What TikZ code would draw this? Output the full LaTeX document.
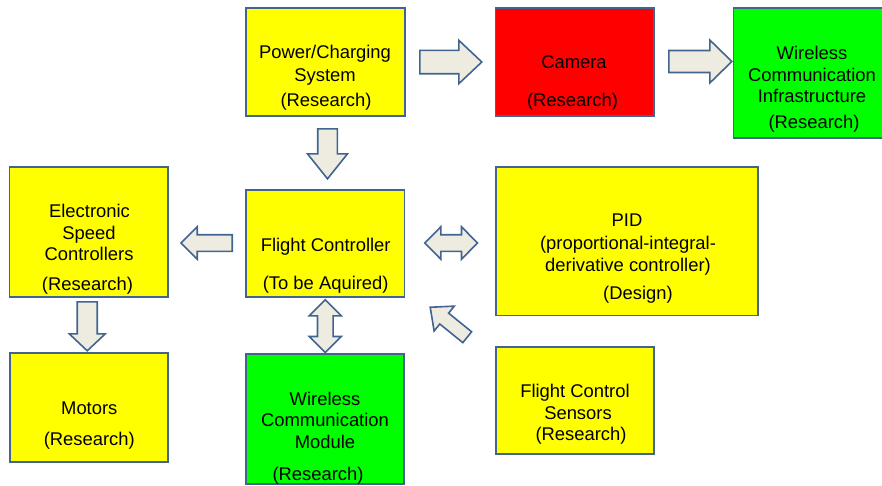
\documentclass[tikz,border=0pt]{standalone}
\usepackage{fontspec}
\setmainfont{Liberation Sans}
\usetikzlibrary{calc}

\definecolor{edgeblue}{RGB}{65,100,145}
\definecolor{arrowfill}{HTML}{EEECE1}
\definecolor{boxyellow}{HTML}{FFFF00}
\definecolor{boxred}{HTML}{FF0000}
\definecolor{boxgreen}{HTML}{00FF00}

\tikzset{
  box/.style={draw=edgeblue, line width=1.6pt, rectangle, inner sep=0pt},
  txt/.style={anchor=base, inner sep=0pt, font=\fontsize{18.4}{22}\selectfont, text=black},
  barrow/.style={draw=edgeblue, fill=arrowfill, line width=1.6pt, line join=miter},
  % block arrow from the tail point: length, head length, shaft half width, head half width
  pics/onearrow/.style n args={4}{code={
    \draw[barrow] (0,#3) -- ({#1-#2},#3) -- ({#1-#2},#4) -- (#1,0)
      -- ({#1-#2},-#4) -- ({#1-#2},-#3) -- (0,-#3) -- cycle;}},
  % double-headed block arrow
  pics/twoarrow/.style n args={4}{code={
    \draw[barrow] (0,0) -- (#2,#4) -- (#2,#3) -- ({#1-#2},#3) -- ({#1-#2},#4)
      -- (#1,0) -- ({#1-#2},-#4) -- ({#1-#2},-#3) -- (#2,-#3) -- (#2,-#4) -- cycle;}},
}

\begin{document}
\begin{tikzpicture}[x=1pt, y=-1pt]
\useasboundingbox (0,0) rectangle (882,485);
\clip (0,0) rectangle (882,485);

% boxes
\node[box, fill=boxyellow, minimum width=159pt, minimum height=108pt] (pw) at (325.5,62) {};
\node[box, fill=boxred, minimum width=158.5pt, minimum height=108pt] (cam) at (574.75,62) {};
\node[box, fill=boxgreen, minimum width=156.5pt, minimum height=130pt] (inf) at (811.75,73) {};
\node[box, fill=boxyellow, minimum width=158.5pt, minimum height=130pt] (esc) at (88.75,232) {};
\node[box, fill=boxyellow, minimum width=158.5pt, minimum height=107pt] (fc) at (325.25,243.5) {};
\node[box, fill=boxyellow, minimum width=262pt, minimum height=148.5pt] (pid) at (627,241.25) {};
\node[box, fill=boxyellow, minimum width=158pt, minimum height=108.5pt] (mot) at (89,407.5) {};
\node[box, fill=boxgreen, minimum width=158pt, minimum height=130pt] (mod) at (325,419) {};
\node[box, fill=boxyellow, minimum width=158pt, minimum height=107pt] (sen) at (575,400.5) {};

% box texts
\node[txt] (pw-1) at (325,58.3) {Power/Charging};
\node[txt] (pw-2) at (325,81) {System};
\node[txt] (pw-3) at (326,106.5) {(Research)};

\node[txt] (cam-1) at (574,68.3) {Camera};
\node[txt] (cam-2) at (572.5,106.5) {(Research)};

\node[txt] (inf-1) at (812,59) {Wireless};
\node[txt] (inf-2) at (812,81.7) {Communication};
\node[txt] (inf-3) at (812,102.7) {Infrastructure};
\node[txt] (inf-4) at (814,128) {(Research)};

\node[txt] (esc-1) at (89.5,217.3) {Electronic};
\node[txt] (esc-2) at (89,239) {Speed};
\node[txt] (esc-3) at (89,260.7) {Controllers};
\node[txt] (esc-4) at (87.5,290.7) {(Research)};

\node[txt] (fc-1) at (325.7,251.7) {Flight Controller};
\node[txt] (fc-2) at (325.7,289) {(To be Aquired)};

\node[txt] (pid-1) at (627,226.7) {PID};
\node[txt] (pid-2) at (628,249.3) {(proportional-integral-};
\node[txt] (pid-3) at (628,271) {derivative controller)};
\node[txt] (pid-4) at (638,299) {(Design)};

\node[txt] (mot-1) at (89.3,414.3) {Motors};
\node[txt] (mot-2) at (89.3,445.7) {(Research)};

\node[txt] (mod-1) at (325,405) {Wireless};
\node[txt] (mod-2) at (325,426.7) {Communication};
\node[txt] (mod-3) at (325,448.3) {Module};
\node[txt] (mod-4) at (318,480) {(Research)};

\node[txt] (sen-1) at (575,397.3) {Flight Control};
\node[txt] (sen-2) at (578,419) {Sensors};
\node[txt] (sen-3) at (581,440.7) {(Research)};

% block arrows between the boxes
\pic at ($(pw.east)+(14,0)$) {onearrow={62}{23}{11.7}{21.7}};
\pic at ($(cam.east)+(14,-0.5)$) {onearrow={63}{22}{11}{21.5}};
\pic[rotate=-90] at ($(pw.south)+(2,12)$) {onearrow={50}{25}{9.8}{20}};
\pic[rotate=180] at ($(fc.west)+(-13,-0.5)$) {onearrow={51.3}{16.3}{8.3}{16.2}};
\pic[rotate=-90] at ($(esc.south)+(-1.5,4)$) {onearrow={49}{17}{10}{18}};
\pic at ($(fc.east)+(19.5,-0.5)$) {twoarrow={52.7}{16}{8.3}{16.2}};
\pic[rotate=-90] at ($(fc.south)+(0,2)$) {twoarrow={52.7}{16}{7.8}{16}};
\pic[rotate=141] at ($(sen.north west)+(-28,-9)$) {onearrow={47.6}{18}{7}{16}};
\end{tikzpicture}
\end{document}
